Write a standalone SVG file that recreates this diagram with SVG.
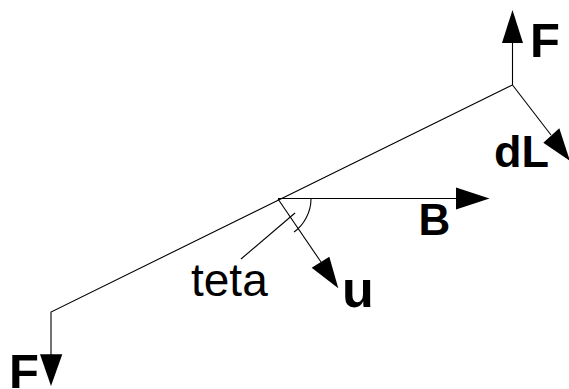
<svg xmlns="http://www.w3.org/2000/svg" width="569" height="389" viewBox="0 0 569 389">
<style>
.ln{fill:none;stroke:#000;stroke-width:1.1}
.ah{fill:#000;stroke:none}
.lb{font-family:"Liberation Sans",Arial,sans-serif;font-weight:bold;fill:#000}
.lr{font-family:"Liberation Sans",Arial,sans-serif;fill:#000}
</style>
<rect width="569" height="389" fill="#fff"/>
<g id="connectors">
<polyline class="ln" points="51,356 51,312 512.5,85 512.5,42"/>
<line class="ln" x1="512.5" y1="85" x2="551" y2="135"/>
<line class="ln" x1="278" y1="198.5" x2="457" y2="198.5"/>
<line class="ln" x1="278" y1="199" x2="321" y2="262"/>
<path class="ln" d="M311,199 C311,212 304,225 294,232"/>
<line class="ln" x1="241" y1="259" x2="295" y2="213"/>
<polygon class="ah" points="512.5,10 502,43 523,43"/>
<polygon class="ah" points="570,161 543.3,142.7 559.3,128.3"/>
<polygon class="ah" points="489.5,198.5 456,187.5 456,209.5"/>
<polygon class="ah" points="338.3,288.3 311.7,267.7 329.3,256.7"/>
<polygon class="ah" points="51,386 40,354.3 62.3,354.3"/>
</g>
<g id="label-F-top"><text class="lb" x="530" y="56.7" font-size="49">F</text></g>
<g id="label-dL"><text class="lb" x="494" y="166.7" font-size="45">dL</text></g>
<g id="label-B"><text class="lb" x="418.5" y="235" font-size="44">B</text></g>
<g id="label-u"><text class="lb" x="342" y="307" font-size="52">u</text></g>
<g id="label-teta"><text class="lr" x="191" y="296" font-size="46">teta</text></g>
<g id="label-F-bottom"><text class="lb" x="9" y="388" font-size="49">F</text></g>
</svg>
